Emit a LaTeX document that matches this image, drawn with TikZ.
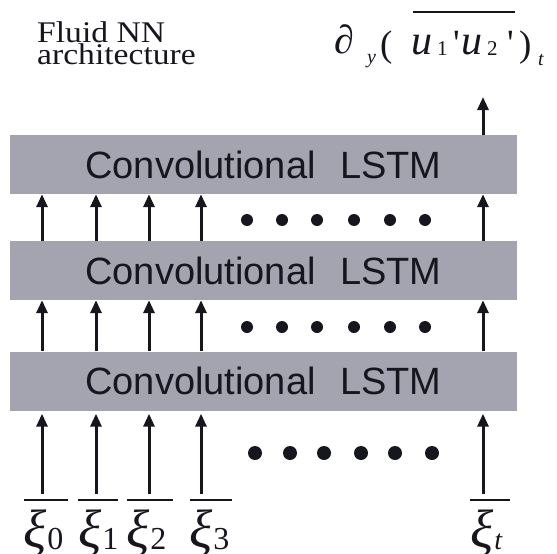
\documentclass[tikz,border=0pt]{standalone}
\usepackage{fontspec}
\setmainfont{Liberation Serif}
\newfontfamily\boxfont{Liberation Sans}
\newfontfamily\headfont[FakeStretch=1.12]{Liberation Serif}
\newfontfamily\rawserif[Ligatures=ResetAll]{Liberation Serif}
\usetikzlibrary{arrows.meta}
\definecolor{lstmgray}{RGB}{164,164,177}
\definecolor{ink}{RGB}{22,22,30}

\begin{document}
\begin{tikzpicture}[x=1pt,y=-1pt,
  lstm/.style={fill=lstmgray, draw=none, minimum width=507pt, minimum height=59pt,
    inner sep=0pt, text=ink, font=\boxfont\fontsize{38}{40}\selectfont},
  uparrow/.style={-{Triangle[width=11pt,length=13pt]}, line width=3pt, draw=ink},
  dotmark/.style={fill=ink},
  xilabel/.style={inner sep=0pt, anchor=base west, text=ink, font=\itshape\fontsize{54}{56}\selectfont},
  xibar/.style={line width=2.7pt, draw=ink},
  headtext/.style={inner sep=0pt, anchor=base west, align=left, text=ink,
    font=\headfont\fontsize{30}{22}\selectfont},
  fbig/.style={inner sep=0pt, anchor=base west, text=ink, font=\fontsize{37}{40}\selectfont},
  fital/.style={inner sep=0pt, anchor=base west, text=ink, font=\itshape\fontsize{42}{44}\selectfont},
  fsmall/.style={inner sep=0pt, anchor=base west, text=ink, font=\fontsize{21}{23}\selectfont},
  fprime/.style={inner sep=0pt, anchor=base west, text=ink, font=\rawserif\fontsize{37}{40}\selectfont}
]
\useasboundingbox (0,0) rectangle (557,554);

% title (base anchor sits on the last line)
\node[headtext] (title) at (37,64) {Fluid NN\\architecture};

% output quantity
\node[fbig, font=\fontsize{40}{42}\selectfont] (dpart) at (334,53) {∂};
\node[fsmall, font=\itshape\fontsize{20}{22}\selectfont] (ysub) at (367,63) {y};
\node[fbig] (lpar) at (380,56) {(};
\node[fital] (ua) at (411,54) {u};
\node[fsmall] (sa) at (437,55) {1};
\node[fprime] (pa) at (453,55) {'};
\node[fital] (ub) at (461,54) {u};
\node[fsmall] (sb) at (487,55) {2};
\node[fprime] (pb) at (507,55) {'};
\node[fbig] (rpar) at (519,56) {)};
\node[fsmall, font=\itshape\fontsize{20}{22}\selectfont] (tsub) at (538,65) {t};
\draw[line width=2pt, draw=ink] (413,12) -- (515,12);

% stacked ConvLSTM layers
\node[lstm] (box1) at (263.5,164.5) {Convolutional\hspace{14pt} LSTM};
\node[lstm] (box2) at (263.5,270.5) {Convolutional\hspace{14pt} LSTM};
\node[lstm] (box3) at (263.5,381)   {Convolutional\hspace{14pt} LSTM};

% input columns
\coordinate (c0) at (42,494);
\coordinate (c1) at (96,494);
\coordinate (c2) at (149,494);
\coordinate (c3) at (201,494);
\coordinate (ct) at (483,494);
\coordinate (out) at (483,97);

\foreach \c in {c0,c1,c2,c3,ct}{
  \draw[uparrow, shorten >=3pt] (\c) -- (box3.south -| \c);
  \draw[uparrow] (box3.north -| \c) -- (box2.south -| \c);
  \draw[uparrow] (box2.north -| \c) -- (box1.south -| \c);
}
\draw[uparrow] (box1.north -| out) -- (out);

% ellipses
\foreach \x in {247,282,317,354,390,425}{
  \fill[dotmark] (\x,220) circle (6pt);
  \fill[dotmark] (\x,327) circle (6pt);
}
\foreach \x in {255,290,324,361,395,432}
  \fill[dotmark] (\x,453) circle (7pt);

% inputs
\newcommand\xisub[1]{\kern1pt\raisebox{-2pt}{\upshape\fontsize{32}{34}\selectfont #1}}
\node[xilabel] (x0) at (23,547) {ξ\xisub{0}};
\node[xilabel] (x1) at (78,547) {ξ\xisub{1}};
\node[xilabel] (x2) at (126,547) {ξ\xisub{2}};
\node[xilabel] (x3) at (189,547) {ξ\xisub{3}};
\node[xilabel] (xt) at (470,547) {ξ\kern1pt\raisebox{-2pt}{\fontsize{28}{30}\selectfont t}};
\draw[xibar] (24,500) -- (68,500);
\draw[xibar] (78,500) -- (118,500);
\draw[xibar] (127,500) -- (173,500);
\draw[xibar] (190,500) -- (232,500);
\draw[xibar] (470,500) -- (510,500);
\end{tikzpicture}
\end{document}
